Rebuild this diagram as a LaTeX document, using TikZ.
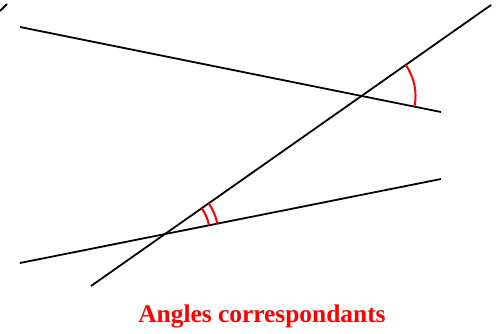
\documentclass[tikz,border=0pt]{standalone}
\usepackage{fontspec}
\setmainfont{Liberation Serif}
\usetikzlibrary{calc}
\begin{document}
\begin{tikzpicture}[x=1pt,y=-1pt,
  blackline/.style={black,line width=1.8pt},
  arcmark/.style={red,line width=2pt}]
\useasboundingbox (0,0) rectangle (503,333);
\coordinate (A1) at (20,27);
\coordinate (A2) at (441,112);
\coordinate (B1) at (20,263);
\coordinate (B2) at (441,179);
\coordinate (T1) at (91,286);
\coordinate (T2) at (491,5);
\coordinate (S1) at (0,11);
\coordinate (S2) at (7,4);
\draw[blackline] (A1) -- (A2);
\draw[blackline] (B1) -- (B2);
\draw[blackline] (T1) -- (T2);
\draw[blackline] (S1) -- (S2);
\coordinate (P) at (intersection of A1--A2 and T1--T2);
\coordinate (Q) at (intersection of B1--B2 and T1--T2);
\draw[arcmark] ([shift={(35.1:54pt)}]P) arc[start angle=35.1, end angle=-11.4, radius=54pt];
\draw[arcmark] ([shift={(35.1:45pt)}]Q) arc[start angle=35.1, end angle=11.3, radius=45pt];
\draw[arcmark] ([shift={(35.1:53.5pt)}]Q) arc[start angle=35.1, end angle=11.3, radius=53.5pt];
\node[text=red, font=\bfseries\fontsize{25.4}{30}\selectfont, anchor=base, inner sep=0pt] (title) at (262,322) {Angles correspondants};
\end{tikzpicture}
\end{document}
